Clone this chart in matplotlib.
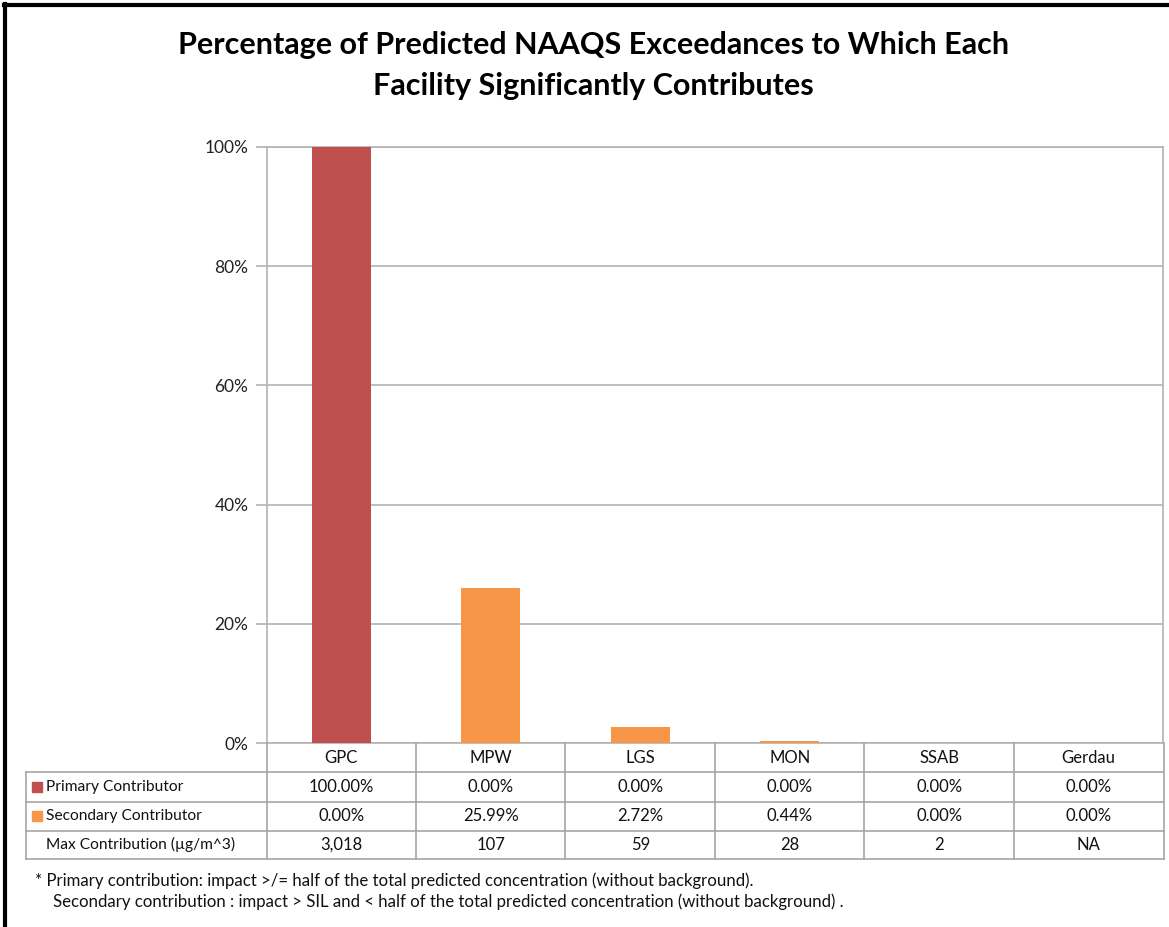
import numpy as np
import matplotlib.pyplot as plt
from matplotlib.lines import Line2D
from matplotlib.patches import Rectangle
from matplotlib.transforms import blended_transform_factory

facilities = ['GPC', 'MPW', 'LGS', 'MON', 'SSAB', 'Gerdau']
primary = [100.00, 0.00, 0.00, 0.00, 0.00, 0.00]
secondary = [0.00, 25.99, 2.72, 0.44, 0.00, 0.00]
max_contrib = ['3,018', '107', '59', '28', '2', 'NA']
row_labels = ['Primary Contributor', 'Secondary Contributor', 'Max Contribution (\u00b5g/m^3)']
yticks = [0, 20, 40, 60, 80, 100]

plt.rcParams['font.family'] = ['Lato', 'DejaVu Sans']

W, H = 1169, 927
fig = plt.figure(figsize=(W / 100, H / 100), dpi=100)

def fx(px):
    return px / W

def fy(py):
    return 1 - py / H

c_prim = '#C0504D'
c_sec = '#F79646'
grid = '#B3B3B3'
tab = '#A6A6A6'

# plot area
x0, x1, ytop, ybot = 266.5, 1163.5, 146.7, 743.3
ax = fig.add_axes([fx(x0), fy(ybot), fx(x1) - fx(x0), fy(ytop) - fy(ybot)])
x = np.arange(len(facilities))
ax.bar(x, primary, width=0.395, color=c_prim, zorder=3)
ax.bar(x, secondary, width=0.395, bottom=primary, color=c_sec, zorder=3)
ax.set_xlim(-0.5, len(facilities) - 0.5)
ax.set_ylim(0, 100)
ax.set_yticks(yticks)
ax.set_yticklabels(['%d%%' % v for v in yticks], fontsize=12.5, color='#222222')
ax.set_xticks([])
ax.yaxis.grid(True, color=grid, linewidth=1.2, zorder=0)
ax.tick_params(axis='y', direction='out', length=8, width=1.2, color=grid, pad=5)
for s in ax.spines.values():
    s.set_color(grid)
    s.set_linewidth(1.2)

# data table under the chart
tr = blended_transform_factory(ax.transData, fig.transFigure)
row_y = [743.3, 772.3, 801.5, 830.5, 859.3]
left_px = 26

def hline(xa, xb, py):
    fig.add_artist(Line2D([fx(xa), fx(xb)], [fy(py), fy(py)], color=tab, lw=1.2))

def vline_fig(px, ya, yb):
    fig.add_artist(Line2D([fx(px), fx(px)], [fy(ya), fy(yb)], color=tab, lw=1.2))

for py in row_y[1:]:
    hline(left_px, x1, py)
vline_fig(left_px, row_y[1], row_y[-1])
vline_fig(x0, row_y[0], row_y[-1])
for b in np.arange(0.5, len(facilities) - 0.5, 1.0):
    fig.add_artist(Line2D([b, b], [fy(row_y[0]), fy(row_y[-1])], color=tab, lw=1.2, transform=tr))
vline_fig(x1, row_y[0], row_y[-1])

def mid(i):
    return fy((row_y[i] + row_y[i + 1]) / 2)

rows = [facilities,
        ['%.2f%%' % v for v in primary],
        ['%.2f%%' % v for v in secondary],
        max_contrib]
for r, vals in enumerate(rows):
    for i, v in enumerate(vals):
        fig.text(i, mid(r), v, transform=tr, ha='center', va='center', fontsize=12, color='#111111')

for r, lab in enumerate(row_labels):
    fig.text(fx(46), mid(r + 1), lab, ha='left', va='center', fontsize=11.2, color='#111111')
for r, c in enumerate([c_prim, c_sec]):
    yc = (row_y[r + 1] + row_y[r + 2]) / 2
    fig.add_artist(Rectangle((fx(32), fy(yc + 5)), fx(10), 10 / H, color=c))

# title and footnote
fig.text(0.508, fy(45), 'Percentage of Predicted NAAQS Exceedances to Which Each',
         ha='center', va='center', fontsize=22, fontweight='bold')
fig.text(0.508, fy(86), 'Facility Significantly Contributes',
         ha='center', va='center', fontsize=22, fontweight='bold')
fig.text(fx(35), fy(881), '* Primary contribution: impact >/= half of the total predicted concentration (without background).',
         ha='left', va='center', fontsize=12.1, color='#111111')
fig.text(fx(53), fy(902), 'Secondary contribution : impact > SIL and < half of the total predicted concentration (without background) .',
         ha='left', va='center', fontsize=12.1, color='#111111')

# outer frame (left and top edges visible in crop)
fig.add_artist(Line2D([fx(5), fx(5)], [fy(4), 0], color='black', lw=3))
fig.add_artist(Line2D([fx(4), 1], [fy(5), fy(5)], color='black', lw=3))

fig.savefig('out.png', dpi=100)
